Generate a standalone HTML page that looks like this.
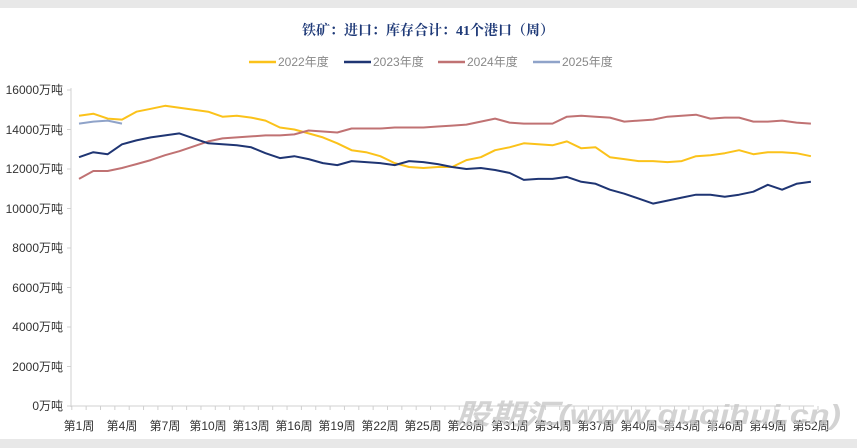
<!DOCTYPE html>
<html><head><meta charset="utf-8"><style>
body{margin:0;background:#fff;}
svg{display:block;font-family:"Liberation Sans","Noto Sans CJK SC",sans-serif;}
</style></head><body>
<svg id="c" width="857" height="448" viewBox="0 0 857 448">
<rect x="0" y="0" width="857" height="448" fill="#fff"/>
<rect x="0" y="0" width="857" height="8" fill="#e8e8e8"/>
<rect x="0" y="439" width="857" height="9" fill="#e8e8e8"/>
<text x="428" y="35" text-anchor="middle" font-family="'Liberation Serif','Noto Serif CJK SC',serif" font-size="14" font-weight="bold" fill="#1f3a78">铁矿：进口：库存合计：41个港口（周）</text>
<g font-size="12" fill="#888">
<line x1="249" y1="62" x2="276" y2="62" stroke="#fbc21a" stroke-width="2.5"/><text x="278" y="66">2022年度</text>
<line x1="344" y1="62" x2="371" y2="62" stroke="#1f3573" stroke-width="2.5"/><text x="373" y="66">2023年度</text>
<line x1="438" y1="62" x2="465" y2="62" stroke="#c07273" stroke-width="2.5"/><text x="467" y="66">2024年度</text>
<line x1="533" y1="62" x2="560" y2="62" stroke="#8fa3c9" stroke-width="2.5"/><text x="562" y="66">2025年度</text>
</g>
<line x1="71" y1="88" x2="71" y2="407" stroke="#d0d0d0"/>
<line x1="71" y1="406" x2="814" y2="406" stroke="#d0d0d0"/>
<g font-size="12" fill="#333" text-anchor="end">
<text x="63" y="94">16000万吨</text>
<text x="63" y="134">14000万吨</text>
<text x="63" y="173">12000万吨</text>
<text x="63" y="213">10000万吨</text>
<text x="63" y="252">8000万吨</text>
<text x="63" y="292">6000万吨</text>
<text x="63" y="331">4000万吨</text>
<text x="63" y="371">2000万吨</text>
<text x="63" y="410">0万吨</text>
</g>
<g font-size="12" fill="#333" text-anchor="middle">
<text x="79" y="430">第1周</text><text x="122" y="430">第4周</text><text x="165" y="430">第7周</text><text x="208" y="430">第10周</text><text x="251" y="430">第13周</text><text x="294" y="430">第16周</text><text x="337" y="430">第19周</text><text x="380" y="430">第22周</text><text x="423" y="430">第25周</text><text x="466" y="430">第28周</text><text x="510" y="430">第31周</text><text x="553" y="430">第34周</text><text x="596" y="430">第37周</text><text x="639" y="430">第40周</text><text x="682" y="430">第43周</text><text x="725" y="430">第46周</text><text x="768" y="430">第49周</text><text x="811" y="430">第52周</text>
</g>
<g id="ticks" stroke="#d0d0d0"></g>
<g id="lines" fill="none" stroke-width="2" stroke-linejoin="round"></g>
<text x="456" y="424" font-size="28" font-weight="bold" fill="#c8c8c8" fill-opacity="0.8" font-style="italic" textLength="385" lengthAdjust="spacingAndGlyphs">股期汇(www.guqihui.cn)</text>
</svg>
<script>
var d={
"#fbc21a":[14700,14800,14550,14500,14900,15050,15200,15100,15000,14900,14650,14700,14600,14450,14100,14000,13800,13600,13300,12950,12850,12650,12300,12100,12050,12100,12100,12450,12600,12950,13100,13300,13250,13200,13400,13050,13100,12600,12500,12400,12400,12350,12400,12650,12700,12800,12950,12750,12850,12850,12800,12650],
"#c07273":[11500,11900,11900,12050,12250,12450,12700,12900,13150,13400,13550,13600,13650,13700,13700,13750,13950,13900,13850,14050,14050,14050,14100,14100,14100,14150,14200,14250,14400,14550,14350,14300,14300,14300,14650,14700,14650,14600,14400,14450,14500,14650,14700,14750,14550,14600,14600,14400,14400,14450,14350,14300],
"#1f3573":[12600,12850,12750,13250,13450,13600,13700,13800,13550,13300,13250,13200,13100,12800,12550,12650,12500,12300,12200,12400,12350,12300,12200,12400,12350,12250,12100,12000,12050,11950,11800,11450,11500,11500,11600,11350,11250,10950,10750,10500,10250,10400,10550,10700,10700,10600,10700,10850,11200,10950,11250,11350],
"#8fa3c9":[14300,14400,14450,14300]};
var g=document.getElementById('lines'),ns="http://www.w3.org/2000/svg";
for(var k in d){var p=d[k].map(function(v,i){return (79+i*14.35).toFixed(1)+","+(406-v*0.01975).toFixed(1)}).join(" ");
var e=document.createElementNS(ns,"polyline");e.setAttribute("points",p);e.setAttribute("stroke",k);g.appendChild(e);}
var t=document.getElementById('ticks');
for(var i=0;i<=52;i++){var x=71.8+i*14.35;var l=document.createElementNS(ns,"line");l.setAttribute("x1",x);l.setAttribute("x2",x);l.setAttribute("y1",406);l.setAttribute("y2",410);t.appendChild(l);}
for(var j=0;j<=8;j++){var y=406-j*39.5;var l=document.createElementNS(ns,"line");l.setAttribute("x1",67);l.setAttribute("x2",71);l.setAttribute("y1",y);l.setAttribute("y2",y);t.appendChild(l);}
</script>
</body></html>
